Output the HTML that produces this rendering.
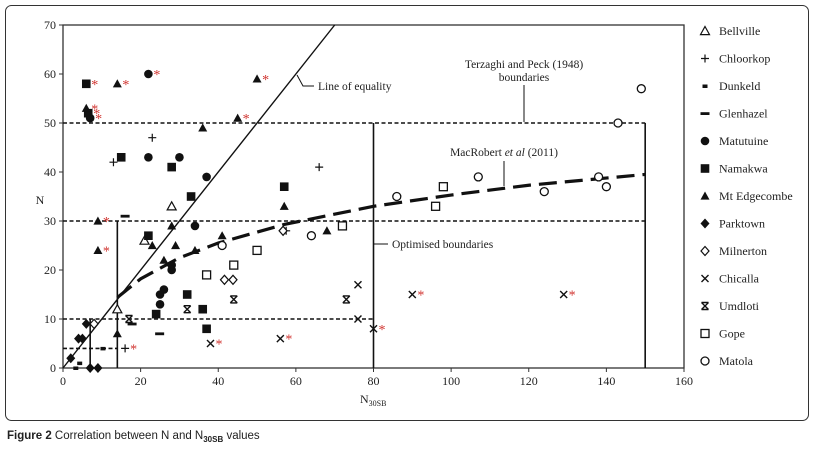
<!DOCTYPE html>
<html><head><meta charset="utf-8"><style>
body{margin:0;background:#fff;width:815px;height:447px;overflow:hidden;font-family:"Liberation Serif",serif}
svg text{font-family:"Liberation Serif",serif;fill:#222}
</style></head><body>
<svg id="chart" width="815" height="447" xmlns="http://www.w3.org/2000/svg">
<rect x="5.5" y="5.5" width="803" height="415" rx="6" fill="none" stroke="#333" stroke-width="1"/>
<g id="plot"></g>
<text x="7" y="439" font-family="Liberation Sans,sans-serif" font-size="11.5" style="font-family:'Liberation Sans',sans-serif"><tspan font-weight="bold">Figure 2</tspan> Correlation between N and N<tspan font-size="8" dy="3" font-weight="bold">30SB</tspan><tspan dy="-3"> values</tspan></text>
</svg>
<script>
const xTicks=[0,20,40,60,80,100,120,140,160];
const yTicks=[0,10,20,30,40,50,60,70];
const bellX=[28,21,14], bellY=[33,26,12];
const chloX=[13,23,66,57.5,16], chloY=[42,47,41,28,4], chloS=[0,0,0,0,1];
const dunkX=[10.3,4.3,3.3], dunkY=[4,1,0];
const glenX=[16,17.8,24.9], glenY=[31,9,7];
const matuX=[7,22,22,30,37,34,28,28,26,25,25], matuY=[51,60,43,43,39,29,21,20,16,15,13], matuS=[1,1,0,0,0,0,0,0,0,0,0];
const namaX=[6,6.5,15,28,33,57,22,24,32,36,37], namaY=[58,52,43,41,35,37,27,11,15,12,8], namaS=[1,1,0,0,0,0,0,0,0,0,0];
const edgeX=[6,14,36,45,50,9,9,14,23,26,28,29,34,41,57,68], edgeY=[53,58,49,51,59,30,24,7,25,22,29,25,24,27,33,28], edgeS=[1,1,0,1,1,1,1,0,0,0,0,0,0,0,0,0];
const parkX=[2,4,5,6,7,9], parkY=[2,6,6,9,0,0];
const milnX=[8,41.6,43.8,56.7], milnY=[9,18,18,28];
const chicX=[38,56,76,76,80,90,129], chicY=[5,6,17,10,8,15,15], chicS=[1,1,0,0,1,1,1];
const umdlX=[17,32,44,73], umdlY=[10,12,14,14];
const gopeX=[37,44,50,72,96,98], gopeY=[19,21,24,29,33,37];
const matoX=[41,64,86,107,124,138,140,143,149], matoY=[25,27,35,39,36,39,37,50,57];
const curveX=[14,20,30,40,57,80,100,120,150], curveY=[14.4,18.2,22.5,25.5,29.3,33,35.3,37.3,39.5];
const hBoundN=[4,10,30,50], hBoundEnd=[14,80,150,150];
const vBoundX=[7,14,80,150], vBoundTop=[10,30,50,50];

const X=v=>63+v*(621/160), Y=v=>368-v*4.9;
const NS="http://www.w3.org/2000/svg", g=document.getElementById('plot');
function mk(t,a){const e=document.createElementNS(NS,t);for(const k in a)e.setAttribute(k,a[k]);g.appendChild(e);return e;}
let e;
e=mk('rect',{x:X(0),y:Y(70),width:X(160)-X(0),height:Y(0)-Y(70),fill:'none',stroke:'#333','stroke-width':1.3});


xTicks.forEach(v=>{e=mk('line',{x1:X(v),x2:X(v),y1:Y(0),y2:Y(0)+4,stroke:'#333'});


e=mk('text',{x:X(v),y:385,'text-anchor':'middle','font-size':12});e.textContent=v;

});
yTicks.forEach(v=>{e=mk('line',{x1:X(0)-4,x2:X(0),y1:Y(v),y2:Y(v),stroke:'#333'});


e=mk('text',{x:56,y:Y(v)+4,'text-anchor':'end','font-size':12});e.textContent=v;

});
e=mk('text',{x:40,y:204,'font-size':12,'text-anchor':'middle'});e.textContent='N';


e=mk('text',{x:360,y:403,'font-size':12});e.innerHTML='N<tspan font-size="8" dy="3">30SB</tspan>';


hBoundN.forEach((n,i)=>{e=mk('line',{x1:X(0),x2:X(hBoundEnd[i]),y1:Y(n),y2:Y(n),stroke:'#111','stroke-width':1.6,'stroke-dasharray':'4,2.5'});

});
vBoundX.forEach((x,i)=>{e=mk('line',{x1:X(x),x2:X(x),y1:Y(0),y2:Y(vBoundTop[i]),stroke:'#111','stroke-width':1.6});

});
e=mk('line',{x1:X(0),y1:Y(0),x2:X(70),y2:Y(70),stroke:'#111','stroke-width':1.4});


e=mk('polyline',{points:curveX.map((x,i)=>X(x)+','+Y(curveY[i])).join(' '),fill:'none',stroke:'#111','stroke-width':3.2,'stroke-dasharray':'18,8'});


function ann(txt,x,y,name,anchor){e=mk('text',{x:x,y:y,'font-size':11.5,'text-anchor':anchor||'start'});e.innerHTML=txt;

}
ann('Line of equality',318,90,'equality-label');
e=mk('polyline',{points:'297,75 303,86 314,86',fill:'none',stroke:'#111'});


ann('Terzaghi and Peck (1948)',524,68,'terzaghi-label','middle');
ann('boundaries',524,81,'terzaghi-label-line2','middle');
e=mk('line',{x1:524,x2:524,y1:85,y2:122,stroke:'#111'});


ann('MacRobert <tspan font-style="italic">et al</tspan> (2011)',504,156,'macrobert-label','middle');
e=mk('line',{x1:504,x2:504,y1:161,y2:186,stroke:'#111'});


ann('Optimised boundaries',392,248,'optimised-label');
e=mk('line',{x1:374,x2:388,y1:244,y2:244,stroke:'#111'});



function marker(type,cx,cy){
 const s=4.5;let d;
 switch(type){
 case 'tri-open':return mk('path',{d:`M${cx},${cy-s}L${cx+s},${cy+s*0.8}L${cx-s},${cy+s*0.8}Z`,fill:'#fff',stroke:'#111','stroke-width':1.2});
 case 'tri':return mk('path',{d:`M${cx},${cy-s}L${cx+s},${cy+s*0.8}L${cx-s},${cy+s*0.8}Z`,fill:'#111'});
 case 'plus':return mk('path',{d:`M${cx-4},${cy}H${cx+4}M${cx},${cy-4}V${cy+4}`,stroke:'#111','stroke-width':1.2,fill:'none'});
 case 'dot':return mk('rect',{x:cx-2.5,y:cy-1.5,width:5,height:3.5,fill:'#111'});
 case 'dash':return mk('rect',{x:cx-4.5,y:cy-1.3,width:9,height:2.8,fill:'#111'});
 case 'circle':return mk('circle',{cx:cx,cy:cy,r:4.3,fill:'#111'});
 case 'circle-open':return mk('circle',{cx:cx,cy:cy,r:4,fill:'#fff',stroke:'#111','stroke-width':1.3});
 case 'square':return mk('rect',{x:cx-4.3,y:cy-4.3,width:8.6,height:8.6,fill:'#111'});
 case 'square-open':return mk('rect',{x:cx-4,y:cy-4,width:8,height:8,fill:'#fff',stroke:'#111','stroke-width':1.3});
 case 'diamond':return mk('path',{d:`M${cx},${cy-5}L${cx+4.5},${cy}L${cx},${cy+5}L${cx-4.5},${cy}Z`,fill:'#111'});
 case 'diamond-open':return mk('path',{d:`M${cx},${cy-4.5}L${cx+4},${cy}L${cx},${cy+4.5}L${cx-4},${cy}Z`,fill:'#fff',stroke:'#111','stroke-width':1.2});
 case 'x':return mk('path',{d:`M${cx-3.5},${cy-3.5}L${cx+3.5},${cy+3.5}M${cx+3.5},${cy-3.5}L${cx-3.5},${cy+3.5}`,stroke:'#111','stroke-width':1.4,fill:'none'});
 case 'xbar':return mk('path',{d:`M${cx-3.5},${cy-3.5}L${cx+3.5},${cy+3.5}M${cx+3.5},${cy-3.5}L${cx-3.5},${cy+3.5}M${cx-3.5},${cy-3.5}H${cx+3.5}M${cx-3.5},${cy+3.5}H${cx+3.5}`,stroke:'#111','stroke-width':1.4,fill:'none'});
 }}
const series=[
 ['Bellville','tri-open',bellX,bellY,null],['Chloorkop','plus',chloX,chloY,chloS],['Dunkeld','dot',dunkX,dunkY,null],
 ['Glenhazel','dash',glenX,glenY,null],['Matutuine','circle',matuX,matuY,matuS],['Namakwa','square',namaX,namaY,namaS],
 ['Mt Edgecombe','tri',edgeX,edgeY,edgeS],['Parktown','diamond',parkX,parkY,null],['Milnerton','diamond-open',milnX,milnY,null],
 ['Chicalla','x',chicX,chicY,chicS],['Umdloti','xbar',umdlX,umdlY,null],['Gope','square-open',gopeX,gopeY,null],['Matola','circle-open',matoX,matoY,null]];
series.forEach((s,si)=>{
 s[2].forEach((x,i)=>{e=marker(s[1],X(x),Y(s[3][i]));
 
 
 if(s[4]&&s[4][i]){e=mk('text',{x:X(x)+5,y:Y(s[3][i])+5,fill:'#d0312d','font-size':14,style:'fill:#d0312d'});e.textContent='*';
 
 }});
 const ly=31+si*27.5;
 e=marker(s[1],705,ly);
 
 
 e=mk('text',{x:719,y:ly+4,'font-size':12});e.textContent=s[0];
 
 
});
</script>
</body></html>
